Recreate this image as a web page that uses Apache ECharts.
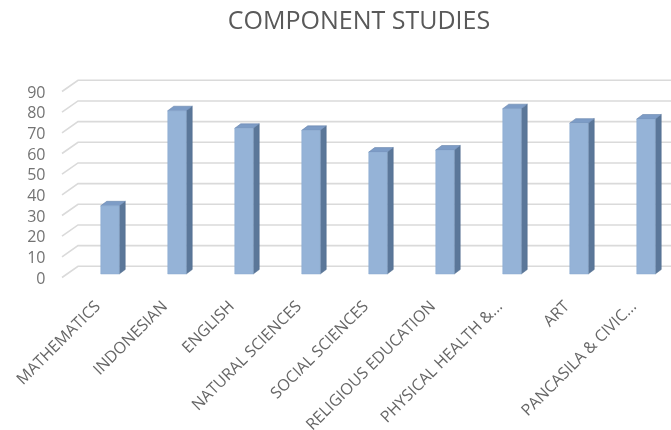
<!DOCTYPE html>
<html>
<head>
<meta charset="utf-8">
<script src="https://cdn.jsdelivr.net/npm/echarts@6/dist/echarts.min.js"></script>
<style>
html,body{margin:0;padding:0;background:#fff;}
#chart{width:671px;height:430px;}
</style>
</head>
<body>
<div id="chart"></div>
<script>
var categories = ['MATHEMATICS','INDONESIAN','ENGLISH','NATURAL SCIENCES','SOCIAL SCIENCES','RELIGIOUS EDUCATION','PHYSICAL HEALTH &...','ART','PANCASILA & CIVIC...'];
var scores = [33, 79, 70.5, 69.5, 59, 60, 80, 73, 75];
var yTicks = [0, 10, 20, 30, 40, 50, 60, 70, 80, 90];

var chart = echarts.init(document.getElementById('chart'), null, {renderer:'canvas'});

var BAR_W = 18.5, DEPTH_X = 6, DEPTH_Y = 4.5, LIFT = 5;

function renderBar(params, api) {
  var cat = api.value(0), v = api.value(1);
  var top = api.coord([cat, v]);
  var base = api.coord([cat, 0]);
  var x0 = top[0] - BAR_W / 2;
  var y1 = top[1] - LIFT, y0 = base[1] - LIFT;
  var x1 = x0 + BAR_W;
  return {
    type: 'group',
    children: [
      {type:'polygon', shape:{points:[[x1,y1],[x1+DEPTH_X,y1-DEPTH_Y],[x1+DEPTH_X,y0-DEPTH_Y],[x1,y0]]},
       style:{fill:'#5b7799', stroke:'#4f6a8a', lineWidth:0.5}},
      {type:'polygon', shape:{points:[[x0,y1],[x0+DEPTH_X,y1-DEPTH_Y],[x1+DEPTH_X,y1-DEPTH_Y],[x1,y1]]},
       style:{fill:'#7d9cc6', stroke:'#6885ad', lineWidth:0.6}},
      {type:'rect', shape:{x:x0, y:y1, width:BAR_W, height:y0-y1},
       style:{fill:'#95b3d7', stroke:'#8aa8cf', lineWidth:0.5}}
    ]
  };
}

function renderGrid(params, api) {
  var p = api.coord([0, api.value(1)]);
  var left = params.coordSys.x;
  var right = params.coordSys.x + params.coordSys.width;
  var y = p[1];
  return {
    type:'polyline',
    shape:{points:[[left-14.5, y-1.5],[left+1.5, y-12.7],[right+20, y-12.7]]},
    style:{stroke:'#dadada', lineWidth:1.6, fill:null}
  };
}

chart.setOption({
  animation:false,
  backgroundColor:'#ffffff',
  title:{
    text:'COMPONENT STUDIES',
    left:354, top:4, textAlign:'center',
    textStyle:{fontFamily:'Open Sans', fontSize:25, fontWeight:'normal', color:'#595959'}
  },
  grid:{left:76.5, top:93, width:603, height:186, containLabel:false, outerBoundsMode:'none'},
  xAxis:{
    type:'category', data:categories,
    axisLine:{show:false}, axisTick:{show:false}, splitLine:{show:false},
    axisLabel:{interval:0, rotate:45, margin:13, padding:[0,17,0,0],
      fontFamily:'Open Sans', fontSize:16, color:'#666666'}
  },
  yAxis:{
    type:'value', min:yTicks[0], max:yTicks[yTicks.length-1], interval:yTicks[1]-yTicks[0],
    axisLine:{show:false}, axisTick:{show:false}, splitLine:{show:false},
    axisLabel:{margin:31, fontFamily:'Open Sans', fontSize:16, color:'#737373'}
  },
  series:[
    {type:'custom', renderItem:renderGrid, silent:true, z:1,
     data:yTicks.map(function(t){return [0, t];})},
    {type:'custom', renderItem:renderBar, z:2,
     data:scores.map(function(v,i){return [i, v];})}
  ]
});
</script>
</body>
</html>
